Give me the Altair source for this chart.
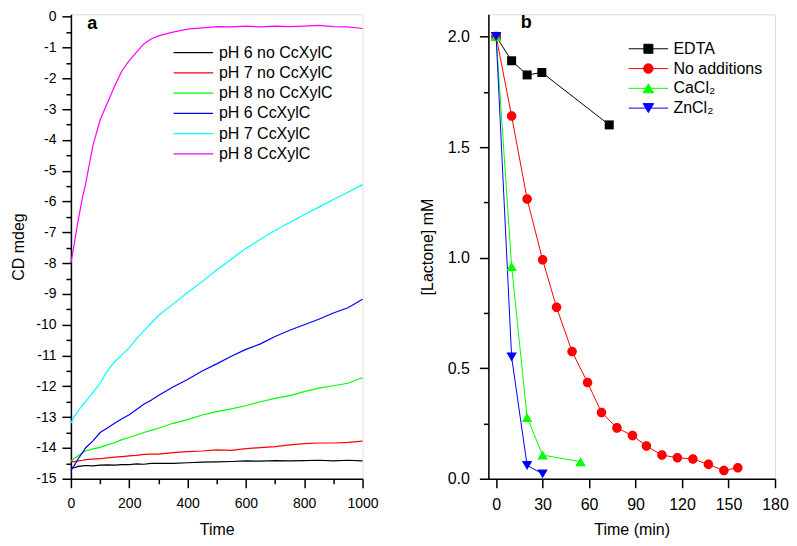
import altair as alt
import pandas as pd

FONT = "Liberation Sans"

# ---------------- Panel a data (CD mdeg vs Time) ----------------
T_A = [0, 10, 25, 40, 50, 75, 100, 125, 150, 175, 200, 225, 250, 275, 300,
       350, 400, 450, 500, 550, 600, 650, 700, 750, 800, 850, 900, 950, 1000]

PH6_NO = [-14.60, -14.65, -14.60, -14.58, -14.57, -14.58, -14.56, -14.55, -14.56, -14.54,
          -14.54, -14.52, -14.53, -14.50, -14.50, -14.50, -14.48, -14.46, -14.45, -14.44,
          -14.42, -14.43, -14.41, -14.42, -14.41, -14.40, -14.42, -14.40, -14.42]
PH7_NO = [-14.42, -14.45, -14.42, -14.40, -14.38, -14.36, -14.35, -14.32, -14.30, -14.28,
          -14.26, -14.24, -14.21, -14.20, -14.20, -14.15, -14.12, -14.10, -14.06, -14.08,
          -14.02, -13.99, -13.96, -13.90, -13.86, -13.84, -13.84, -13.82, -13.78]
PH8_NO = [-14.42, -14.35, -14.25, -14.15, -14.10, -14.03, -13.98, -13.90, -13.83, -13.73,
          -13.66, -13.58, -13.50, -13.43, -13.36, -13.20, -13.08, -12.93, -12.82, -12.73,
          -12.63, -12.50, -12.39, -12.30, -12.17, -12.06, -11.98, -11.90, -11.72]
PH6_C = [-14.73, -14.60, -14.35, -14.15, -14.00, -13.78, -13.50, -13.35, -13.20, -13.05,
         -12.92, -12.75, -12.58, -12.45, -12.30, -12.02, -11.78, -11.50, -11.27, -11.02,
         -10.80, -10.62, -10.38, -10.18, -10.00, -9.82, -9.62, -9.45, -9.17]
PH7_C = [-13.20, -13.00, -12.80, -12.60, -12.50, -12.20, -11.90, -11.50, -11.20, -10.98,
         -10.75, -10.45, -10.20, -9.95, -9.70, -9.33, -8.95, -8.60, -8.22, -7.87,
         -7.52, -7.22, -6.94, -6.68, -6.43, -6.18, -5.93, -5.70, -5.45]
PH8_C = [-8.00, -7.45, -6.60, -5.85, -5.45, -4.20, -3.35, -2.80, -2.25, -1.75,
         -1.42, -1.15, -0.88, -0.72, -0.62, -0.50, -0.40, -0.36, -0.32, -0.33,
         -0.30, -0.33, -0.30, -0.32, -0.30, -0.28, -0.32, -0.33, -0.38]

SERIES_A = ["pH 6 no CcXylC", "pH 7 no CcXylC", "pH 8 no CcXylC",
            "pH 6 CcXylC", "pH 7 CcXylC", "pH 8 CcXylC"]
COLORS_A = ["#000000", "#FF0000", "#00FF00", "#0000FF", "#00FFFF", "#FF00FF"]
VALUES_A = [PH6_NO, PH7_NO, PH8_NO, PH6_C, PH7_C, PH8_C]

# ---------------- Panel b data ([Lactone] vs Time) ----------------
EDTA_T = [0, 10, 20, 29.5, 73]
EDTA_V = [2.0, 1.89, 1.826, 1.837, 1.60]
NOADD_T = [0, 10, 20, 30, 39, 49, 59, 68, 78, 88, 97, 107, 117, 127, 137, 147, 156]
NOADD_V = [2.0, 1.64, 1.265, 0.99, 0.775, 0.575, 0.435, 0.30, 0.23, 0.195, 0.148,
           0.107, 0.095, 0.089, 0.065, 0.037, 0.05]
CACL_T = [0, 10, 20, 30, 54.5]
CACL_V = [2.0, 0.96, 0.277, 0.107, 0.077]
ZNCL_T = [0, 10, 20, 30]
ZNCL_V = [2.0, 0.55, 0.06, 0.022]

SERIES_B = ["EDTA", "No additions", "CaCl\u2082", "ZnCl\u2082"]
COLORS_B = ["#000000", "#FF0000", "#00FF00", "#0000FF"]

PANEL_LABELS = ["a", "b"]

# tick values (major + minor)
XA_TICKS = [0, 100, 200, 300, 400, 500, 600, 700, 800, 900, 1000]
YA_TICKS = [v / 2 for v in range(-30, 1)]
XB_TICKS = [0, 15, 30, 45, 60, 75, 90, 105, 120, 135, 150, 165, 180]
YB_TICKS = [0, 0.25, 0.5, 0.75, 1.0, 1.25, 1.5, 1.75, 2.0]

# marker shapes (unit box, scaled by sqrt(size)/2)
SQ = "M-0.5,-0.5H0.5V0.5H-0.5Z"
CI = "M-0.53,0A0.53,0.53 0 1,0 0.53,0A0.53,0.53 0 1,0 -0.53,0Z"
TU = "M0,-0.5L0.58,0.5L-0.58,0.5Z"
TD = "M0,0.5L0.58,-0.5L-0.58,-0.5Z"
LN = "M-2.2,0H2.2"
SHAPES_B = [SQ, CI, TU, TD]
SHAPES_LEG = [LN + SQ, LN + CI, LN + TU, LN + TD]

rows_a = []
for name, vals in zip(SERIES_A, VALUES_A):
    for t, v in zip(T_A, vals):
        rows_a.append({"t": t, "v": v, "series": name})
df_a = pd.DataFrame(rows_a)

rows_b = []
for name, ts, vs in zip(SERIES_B, [EDTA_T, NOADD_T, CACL_T, ZNCL_T],
                        [EDTA_V, NOADD_V, CACL_V, ZNCL_V]):
    for t, v in zip(ts, vs):
        rows_b.append({"t": t, "v": v, "series": name})
df_b = pd.DataFrame(rows_b)

WA = 292
WB = 287
H = 465


def axis(orient, values, size, lab_pad, title, title_pad, minor_test, label_expr):
    return alt.Axis(
        orient=orient, values=values,
        tickSize={"condition": {"test": minor_test, "value": 5}, "value": 9},
        tickWidth=1.5, tickColor="black",
        domainWidth=1.5, domainColor="black", grid=False,
        labelFlush=False, labelOverlap=False, labelFont=FONT, labelFontSize=size,
        labelColor="black", labelPadding=lab_pad, labelExpr=label_expr,
        title=title, titleFont=FONT, titleFontSize=16, titleFontWeight="normal",
        titleColor="black", titlePadding=title_pad)


# ---------------- Panel a ----------------
xa = alt.Scale(domain=[0, 1000], nice=False, zero=False)
ya = alt.Scale(domain=[-15, 0.08], nice=False, zero=False)

lines_a = alt.Chart(df_a).mark_line(strokeWidth=1.2).encode(
    x=alt.X("t:Q", scale=xa,
            axis=axis("bottom", XA_TICKS, 14, 9, "Time", 11,
                      "datum.value % 200 !== 0",
                      "datum.value % 200 !== 0 ? '' : toString(datum.value)")),
    y=alt.Y("v:Q", scale=ya,
            axis=axis("left", YA_TICKS, 14, 6, "CD mdeg", 9,
                      "datum.value % 1 !== 0",
                      "datum.value % 1 !== 0 ? '' : toString(datum.value)")),
    color=alt.Color("series:N", sort=SERIES_A,
                    scale=alt.Scale(domain=SERIES_A, range=COLORS_A),
                    legend=alt.Legend(title=None, orient="none", legendX=112.6, legendY=28.3,
                                      symbolType=LN, symbolSize=324, symbolStrokeWidth=1.2,
                                      labelFont=FONT, labelFontSize=16, labelColor="black",
                                      labelOffset=15.6, rowPadding=2.3, padding=0)),
)

text_a = alt.Chart(pd.DataFrame({"lab": [PANEL_LABELS[0]]})).mark_text(
    font=FONT, fontSize=18, fontWeight="bold", align="center", baseline="alphabetic",
    color="black").encode(x=alt.value(21.3), y=alt.value(15.0), text="lab:N")

panel_a = alt.layer(lines_a, text_a).properties(width=WA, height=H)

# ---------------- Panel b ----------------
xb = alt.Scale(domain=[-5, 180], nice=False, zero=False)
yb = alt.Scale(domain=[0, 2.1], nice=False, zero=False)

lines_b = alt.Chart(df_b).mark_line(strokeWidth=1).encode(
    x=alt.X("t:Q", scale=xb,
            axis=axis("bottom", XB_TICKS, 16, 9, "Time (min)", 9,
                      "datum.value % 30 !== 0",
                      "datum.value % 30 !== 0 ? '' : toString(datum.value)")),
    y=alt.Y("v:Q", scale=yb,
            axis=axis("left", YB_TICKS, 16, 10, "[Lactone] mM", 12,
                      "(datum.value * 4) % 2 !== 0",
                      "(datum.value * 4) % 2 !== 0 ? '' : format(datum.value, '.1f')")),
    color=alt.Color("series:N", scale=alt.Scale(domain=SERIES_B, range=COLORS_B),
                    legend=None),
)

points_b = alt.Chart(df_b).mark_point(filled=True, size=324, opacity=1, strokeWidth=0).encode(
    x=alt.X("t:Q", scale=xb),
    y=alt.Y("v:Q", scale=yb),
    shape=alt.Shape("series:N", scale=alt.Scale(domain=SERIES_B, range=SHAPES_B), legend=None),
    fill=alt.Fill("series:N", scale=alt.Scale(domain=SERIES_B, range=COLORS_B), legend=None),
)

leg_props = dict(title=None, orient="none", legendX=150.7, legendY=25,
                 symbolSize=324, symbolStrokeWidth=1,
                 labelFont=FONT, labelFontSize=16, labelColor="black",
                 labelOffset=15.6, rowPadding=1.8, padding=0)

legend_b = alt.Chart(df_b).transform_calculate(lseries="datum.series").transform_filter(
    "false").mark_point(filled=True, size=324, opacity=1, strokeWidth=1).encode(
    x=alt.X("t:Q", scale=xb),
    y=alt.Y("v:Q", scale=yb),
    shape=alt.Shape("lseries:N", scale=alt.Scale(domain=SERIES_B, range=SHAPES_LEG),
                    legend=alt.Legend(**leg_props)),
    fill=alt.Fill("lseries:N", scale=alt.Scale(domain=SERIES_B, range=COLORS_B),
                  legend=alt.Legend(**leg_props)),
    stroke=alt.Stroke("lseries:N", scale=alt.Scale(domain=SERIES_B, range=COLORS_B),
                      legend=alt.Legend(**leg_props)),
)

text_b = alt.Chart(pd.DataFrame({"lab": [PANEL_LABELS[1]]})).mark_text(
    font=FONT, fontSize=18, fontWeight="bold", align="center", baseline="alphabetic",
    color="black").encode(x=alt.value(37.8), y=alt.value(13.5), text="lab:N")

panel_b = alt.layer(lines_b, points_b, legend_b, text_b).resolve_scale(
    shape="independent", fill="independent", stroke="independent"
).properties(width=WB, height=H)

chart = alt.hconcat(panel_a, panel_b, spacing=126, bounds="flush").resolve_scale(
    color="independent", fill="independent", stroke="independent", shape="independent"
).properties(
    padding={"left": 2, "top": 0, "right": 0, "bottom": 3}
).configure_view(strokeWidth=0).configure(font=FONT)

chart.save("out.html", embed_options={"renderer": "svg", "actions": False})
